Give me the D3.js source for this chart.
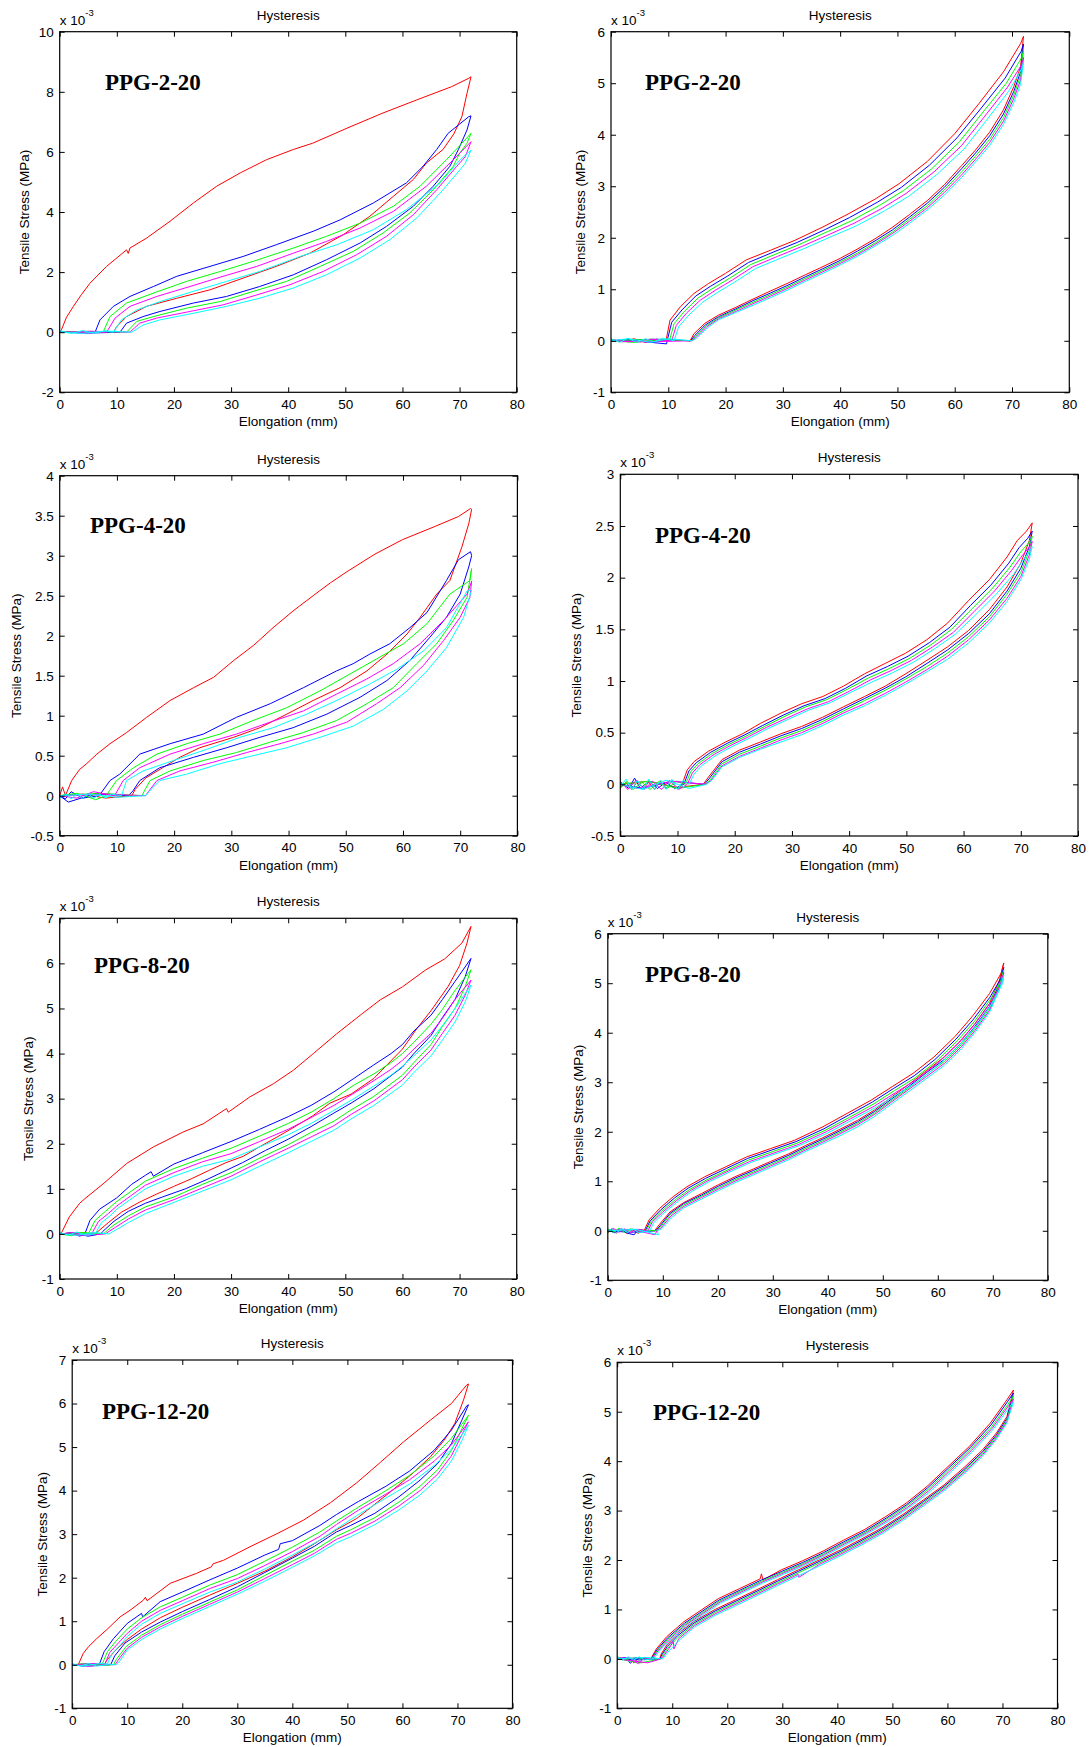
<!DOCTYPE html>
<html>
<head>
<meta charset="utf-8">
<script src="https://cdn.jsdelivr.net/npm/d3@7"></script>
<style>
  body { margin: 0; background: #fff; }
  svg text { font-family: "Liberation Sans", Arial, sans-serif; fill: #000; }
  .panel-name { font-family: "Liberation Serif", "Times New Roman", serif; font-weight: bold; }
</style>
</head>
<body>
<div id="chart"></div>
<script>
// hysteresis loops, 5 cycles per sample (red, blue, green, magenta, cyan)
// stress values are in units of 1e-3 MPa, elongation in mm

var seriesColors = ['#ff0000', '#0000ff', '#00ff00', '#ff00ff', '#00ffff'];
var panelNames = ['PPG-2-20', 'PPG-2-20', 'PPG-4-20', 'PPG-4-20', 'PPG-8-20', 'PPG-8-20', 'PPG-12-20', 'PPG-12-20'];
var xTicks = [0, 10, 20, 30, 40, 50, 60, 70, 80];
var yDomains = [[-2, 10], [-1, 6], [-0.5, 4], [-0.5, 3], [-1, 7], [-1, 6], [-1, 7], [-1, 6]];
var yTicks = [
  [-2, 0, 2, 4, 6, 8, 10],
  [-1, 0, 1, 2, 3, 4, 5, 6],
  [-0.5, 0, 0.5, 1, 1.5, 2, 2.5, 3, 3.5, 4],
  [-0.5, 0, 0.5, 1, 1.5, 2, 2.5, 3],
  [-1, 0, 1, 2, 3, 4, 5, 6, 7],
  [-1, 0, 1, 2, 3, 4, 5, 6],
  [-1, 0, 1, 2, 3, 4, 5, 6, 7],
  [-1, 0, 1, 2, 3, 4, 5, 6]
];

// PPG-2-20, left
var loopsPPG2a = [
  [[0,0],[0.3,0.08],[1.2,0.5],[2.4,0.86],[3.8,1.25],[5.3,1.63],[8.2,2.19],[11.7,2.74],[12,2.62],[12.3,2.8],[15.2,3.13],[19.3,3.69],[23.4,4.3],[27.5,4.86],[31.6,5.3],[36.2,5.74],[40.9,6.08],[44.3,6.29],[50.3,6.79],[56.4,7.28],[62.5,7.73],[68.6,8.17],[71.6,8.45],[72,8.5],[71.3,7.95],[70.4,7.17],[69,6.6],[67.1,6.08],[64.2,5.63],[61.9,5.08],[58.4,4.52],[54.3,3.86],[49.6,3.24],[43.8,2.63],[37.9,2.19],[32.1,1.8],[26.3,1.41],[20.5,1.13],[15.2,0.86],[11.7,0.52],[10,0.19],[9.4,0],[5,0.03],[0,0]],
  [[0,0],[3,0.02],[6.2,0],[7.05,0.41],[9.4,0.86],[12.3,1.19],[16.4,1.52],[20.5,1.86],[26.3,2.19],[32.1,2.52],[37.9,2.91],[44.4,3.36],[49.1,3.74],[54.9,4.3],[60.7,4.97],[63.6,5.52],[66,6.08],[68,6.62],[71.6,7.17],[72,7.2],[71.3,6.73],[69.8,6.08],[68.3,5.52],[65.4,4.86],[61.9,4.19],[57.2,3.52],[52.6,2.97],[46.7,2.41],[40.9,1.91],[35,1.52],[29.2,1.19],[23.4,0.97],[17.55,0.69],[14.6,0.52],[11.7,0.3],[10.55,0],[5,-0.03],[0,0]],
  [[0,0],[4,0.03],[7.6,0],[8.8,0.52],[11.7,0.97],[16.4,1.3],[22.2,1.69],[28.1,2.02],[33.9,2.36],[40.9,2.8],[46.7,3.19],[52.6,3.63],[58.4,4.19],[63.1,4.86],[67.7,5.74],[70,6.2],[72,6.62],[71.3,6.29],[70,5.95],[68.9,5.52],[65.4,4.74],[61.3,3.97],[56.6,3.3],[51.4,2.69],[45.6,2.19],[39.7,1.69],[33.9,1.36],[28.1,1.02],[22.2,0.8],[16.4,0.52],[13.5,0.36],[11.7,0],[6,0.02],[0,0]],
  [[0,0],[4,-0.02],[8.2,0],[9.7,0.47],[12.3,0.86],[17,1.19],[22.8,1.52],[28.6,1.86],[34.5,2.19],[40.9,2.63],[46.7,3.02],[52.6,3.47],[58.4,4.02],[64.2,4.86],[68.9,5.74],[72,6.34],[71,5.84],[69.5,5.52],[66,4.74],[61.9,3.91],[57.2,3.19],[52,2.58],[46.1,2.02],[40.3,1.58],[34.5,1.24],[28.6,0.91],[22.8,0.69],[17,0.47],[14,0.3],[12.3,0],[6,0.03],[0,0]],
  [[0,0.05],[2,-0.04],[4,0.05],[6,-0.03],[8,0.04],[9.4,0],[10.8,0.41],[13.5,0.74],[17.6,1.02],[23.4,1.36],[29.2,1.69],[35,2.02],[42.1,2.52],[48.5,2.91],[54.9,3.41],[60.7,4.08],[66.6,4.97],[70.1,5.74],[72,6.06],[71,5.62],[70.1,5.41],[66.6,4.63],[62.5,3.8],[57.8,3.08],[52.6,2.47],[46.7,1.91],[40.9,1.47],[35,1.13],[29.2,0.86],[23.4,0.63],[17.55,0.41],[14.6,0.24],[12.6,0],[8,0.04],[4,-0.04],[0,0]]
];

// PPG-2-20, right
var loopsPPG2b = [
  [[0,0.03],[2,-0.02],[4,0.04],[6,-0.03],[8,0.03],[9.6,0],[10.3,0.4],[12.1,0.66],[14.5,0.92],[17,1.11],[20,1.31],[23.6,1.57],[27.9,1.76],[32.1,1.95],[37,2.21],[41.2,2.45],[46.1,2.75],[50.3,3.05],[55.2,3.48],[60,4.02],[64.2,4.6],[68.5,5.22],[71.5,5.77],[72,5.91],[71.5,5.32],[70.3,4.93],[68.5,4.48],[66.1,4.05],[63.6,3.7],[61.2,3.4],[58.2,3.03],[55.2,2.72],[52.1,2.45],[49.1,2.2],[46.1,1.98],[43,1.78],[40,1.6],[37,1.44],[33.9,1.28],[30.9,1.12],[27.9,0.97],[24.8,0.81],[21.8,0.65],[18.8,0.5],[16.4,0.34],[14.5,0.14],[13.8,0],[10,0.02],[5,-0.02],[0,0]],
  [[0,0],[3,0.03],[6,-0.02],[9.7,-0.06],[9.8,0],[10.6,0.36],[12.4,0.6],[14.8,0.87],[17.4,1.06],[20.4,1.26],[24,1.52],[28.3,1.72],[32.5,1.91],[37.4,2.16],[41.6,2.39],[46.5,2.69],[50.7,2.98],[55.6,3.41],[60.4,3.94],[64.5,4.5],[68.8,5.1],[71.6,5.62],[72,5.76],[71.5,5.22],[70.3,4.84],[68.5,4.4],[66.1,3.98],[63.6,3.64],[61.2,3.34],[58.2,2.98],[55.2,2.67],[52.1,2.4],[49.1,2.15],[46.1,1.94],[43,1.74],[40,1.56],[37,1.4],[33.9,1.24],[30.9,1.08],[27.9,0.93],[24.8,0.78],[21.8,0.62],[18.8,0.47],[16.5,0.31],[14.6,0.1],[13.9,0],[8,0.03],[0,0]],
  [[0,0],[4,-0.03],[8,0.02],[10.2,0],[11,0.33],[12.8,0.57],[15.2,0.83],[17.8,1.02],[20.8,1.22],[24.4,1.48],[28.7,1.68],[32.9,1.87],[37.8,2.12],[42,2.33],[46.9,2.63],[51.1,2.92],[56,3.34],[60.8,3.86],[64.8,4.42],[69,5],[71.7,5.5],[72,5.63],[71.5,5.14],[70.3,4.77],[68.5,4.33],[66.1,3.91],[63.6,3.58],[61.2,3.28],[58.2,2.93],[55.2,2.62],[52.1,2.36],[49.1,2.11],[46.1,1.9],[43,1.7],[40,1.53],[37,1.37],[33.9,1.21],[30.9,1.05],[27.9,0.9],[24.8,0.75],[21.8,0.6],[18.8,0.45],[16.6,0.29],[14.7,0.08],[14,0],[7,0.03],[0,0]],
  [[0,0.02],[3,-0.02],[7,0.03],[10.6,0],[11.4,0.3],[13.2,0.54],[15.6,0.79],[18.2,0.98],[21.2,1.18],[24.8,1.44],[29.1,1.64],[33.3,1.83],[38.2,2.07],[42.4,2.28],[47.3,2.57],[51.5,2.86],[56.4,3.28],[61.2,3.79],[65.1,4.34],[69.2,4.92],[71.8,5.38],[72,5.5],[71.5,5.06],[70.3,4.7],[68.5,4.26],[66.1,3.85],[63.6,3.52],[61.2,3.22],[58.2,2.88],[55.2,2.58],[52.1,2.32],[49.1,2.08],[46.1,1.87],[43,1.67],[40,1.5],[37,1.34],[33.9,1.18],[30.9,1.02],[27.9,0.87],[24.8,0.72],[21.8,0.57],[18.8,0.43],[16.7,0.27],[14.8,0.06],[14.1,0],[6,-0.02],[0,0]],
  [[0,0.04],[1.5,-0.03],[3,0.05],[4.5,-0.03],[6,0.04],[7.5,-0.02],[9,0.05],[11,0],[11.8,0.27],[13.6,0.5],[16,0.75],[18.6,0.94],[21.6,1.14],[25.2,1.4],[29.5,1.6],[33.7,1.79],[38.6,2.03],[42.8,2.23],[47.7,2.52],[51.9,2.8],[56.8,3.22],[61.6,3.72],[65.4,4.26],[69.4,4.84],[71.8,5.3],[72,5.42],[71.5,4.98],[70.3,4.62],[68.5,4.2],[66.1,3.79],[63.6,3.47],[61.2,3.17],[58.2,2.83],[55.2,2.54],[52.1,2.28],[49.1,2.04],[46.1,1.84],[43,1.64],[40,1.47],[37,1.31],[33.9,1.15],[30.9,0.99],[27.9,0.84],[24.8,0.69],[21.8,0.55],[18.8,0.41],[16.8,0.25],[14.9,0.05],[14.2,0],[10,0.04],[7,-0.03],[3,0.04],[0,0]]
];

// PPG-4-20, left
var loopsPPG4a = [
  [[0,0],[0.5,0.11],[1,0],[2.1,0.19],[3.5,0.33],[4.7,0.4],[6.5,0.52],[8.8,0.65],[11.7,0.79],[15.2,0.98],[19.3,1.19],[23.4,1.35],[26.9,1.48],[30.4,1.69],[33.9,1.88],[37.3,2.1],[40.8,2.31],[44.3,2.5],[47.3,2.66],[50.2,2.8],[55.1,3.02],[59.9,3.2],[65.4,3.36],[69.7,3.49],[71.8,3.59],[72,3.58],[71.5,3.4],[70.3,3.11],[68.2,2.69],[65.9,2.52],[64.2,2.35],[63,2.23],[60.7,2.02],[57.2,1.77],[53.7,1.56],[49,1.35],[44.3,1.19],[39.7,1.02],[35,0.85],[30.4,0.73],[24.5,0.6],[21,0.48],[18,0.35],[15,0.22],[13.2,0.08],[12.6,0],[8,-0.03],[4,0.02],[0,0]],
  [[0,0],[1,-0.04],[2,0.05],[4,-0.03],[6.9,0],[8.8,0.19],[10.5,0.27],[14,0.52],[19.3,0.65],[25.1,0.77],[30.9,0.98],[36.8,1.15],[42.6,1.35],[48.4,1.56],[51.3,1.65],[54.2,1.77],[57.7,1.9],[61.2,2.1],[64.2,2.29],[67.6,2.69],[69.7,2.95],[71.8,3.05],[72,3],[71.5,2.86],[70,2.52],[67.6,2.23],[64.7,1.98],[61.2,1.69],[57.2,1.44],[52.5,1.23],[46.7,1.02],[40.8,0.85],[35,0.73],[29.2,0.6],[23.4,0.48],[17.5,0.35],[14,0.19],[12.8,0.06],[12,0],[6,0.02],[1.5,-0.08],[0,0]],
  [[0,0],[3,0.03],[6.3,-0.05],[8.1,0],[9.95,0.19],[12.9,0.35],[17,0.52],[22.2,0.65],[28,0.77],[33.8,0.94],[39.7,1.1],[45.5,1.31],[50.7,1.52],[55.4,1.71],[60.1,1.9],[64.2,2.15],[68.2,2.52],[71.7,2.69],[72,2.84],[71.2,2.48],[68.8,2.19],[65.9,1.9],[62.4,1.65],[58.3,1.35],[53.7,1.15],[48.4,0.94],[42.6,0.79],[36.8,0.67],[30.9,0.54],[25.1,0.44],[19.3,0.31],[15.8,0.19],[14.8,0.06],[14.4,0],[7,0.03],[0,0]],
  [[0,0],[3,-0.03],[5.9,0.05],[9.6,0],[11.1,0.19],[14,0.35],[19.3,0.52],[25.1,0.65],[30.9,0.77],[36.8,0.92],[42.6,1.06],[48.4,1.27],[53.7,1.46],[58.3,1.65],[63,1.9],[67.1,2.19],[71.2,2.52],[72,2.68],[71.7,2.48],[70,2.23],[67.1,1.94],[63.6,1.63],[59.5,1.35],[55.4,1.15],[50.2,0.92],[44.3,0.77],[38.5,0.65],[32.7,0.54],[26.9,0.42],[21,0.31],[17,0.19],[15.5,0.05],[15,0],[8,0.02],[0,0]],
  [[0,-0.03],[1,0.03],[2,-0.04],[3,0.02],[4,-0.03],[5,0.02],[6,-0.03],[7,0.02],[8,-0.03],[9,0.02],[10.8,0],[11.7,0.19],[14.6,0.31],[19.9,0.44],[25.7,0.58],[31.5,0.73],[37.3,0.85],[43.2,1.02],[49,1.21],[54.3,1.4],[58.9,1.58],[63.6,1.81],[67.6,2.1],[71.2,2.56],[72,2.57],[70.6,2.23],[67.6,1.85],[64.2,1.56],[60.7,1.31],[56.6,1.08],[51.3,0.87],[45.5,0.73],[39.7,0.6],[33.8,0.5],[28,0.4],[22.2,0.27],[17.5,0.19],[15.6,0.05],[15,0],[10,-0.02],[5,0.02],[0,0]]
];

// PPG-4-20, right
var loopsPPG4b = [
  [[0,-0.03],[1,0.02],[2,-0.05],[3,0.03],[4,-0.04],[5,0.02],[6,-0.05],[7,0.03],[8,-0.04],[9,0.03],[10,-0.04],[10.8,0],[11.7,0.14],[12.9,0.22],[15.4,0.32],[18.4,0.41],[21.4,0.49],[24.5,0.59],[28.1,0.69],[31.7,0.78],[35.4,0.85],[39,0.95],[42.7,1.07],[46.3,1.17],[49.9,1.27],[53.6,1.4],[57.2,1.56],[60.9,1.78],[64.5,1.98],[67.6,2.2],[69.4,2.36],[71,2.45],[72,2.53],[71.5,2.36],[70,2.14],[67.6,1.91],[64.5,1.69],[60.9,1.49],[57.2,1.33],[53.6,1.2],[49.9,1.07],[46.3,0.95],[42.7,0.85],[39,0.75],[35.4,0.65],[31.7,0.56],[28.1,0.49],[24.5,0.41],[20.8,0.33],[17.8,0.24],[15.4,0.07],[14.5,0],[10,-0.03],[5,0.03],[0,0]],
  [[0,0.02],[1.5,-0.04],[2.5,0.06],[3.5,-0.04],[5,0.03],[6.5,-0.04],[8,0.02],[9.5,-0.04],[11.1,0],[12,0.13],[13.3,0.21],[15.8,0.31],[18.8,0.4],[21.8,0.48],[24.9,0.57],[28.5,0.67],[32.1,0.76],[35.8,0.83],[39.4,0.93],[43.1,1.05],[46.7,1.14],[50.3,1.24],[54,1.37],[57.6,1.52],[61.2,1.73],[64.8,1.93],[67.9,2.14],[69.7,2.29],[71.2,2.38],[72,2.45],[71.5,2.3],[70,2.09],[67.6,1.87],[64.5,1.65],[60.9,1.46],[57.2,1.3],[53.6,1.17],[49.9,1.04],[46.3,0.93],[42.7,0.83],[39,0.73],[35.4,0.63],[31.7,0.54],[28.1,0.47],[24.5,0.39],[20.8,0.31],[17.8,0.22],[15.6,0.06],[14.7,0],[9,0.03],[4,-0.04],[0,0]],
  [[0,-0.04],[1.2,0.03],[2.2,-0.05],[3.8,0.02],[5.2,-0.05],[6.8,0.03],[8.2,-0.04],[9.8,0.03],[11.4,0],[12.3,0.12],[13.6,0.2],[16.1,0.3],[19.1,0.39],[22.1,0.47],[25.2,0.56],[28.8,0.66],[32.4,0.75],[36.1,0.82],[39.7,0.92],[43.4,1.03],[47,1.12],[50.6,1.22],[54.3,1.35],[57.9,1.5],[61.5,1.7],[65.1,1.9],[68.1,2.1],[70,2.25],[71.3,2.33],[72,2.4],[71.5,2.26],[70,2.05],[67.6,1.84],[64.5,1.62],[60.9,1.43],[57.2,1.27],[53.6,1.14],[49.9,1.02],[46.3,0.91],[42.7,0.81],[39,0.71],[35.4,0.61],[31.7,0.52],[28.1,0.45],[24.5,0.37],[20.8,0.29],[17.8,0.2],[15.8,0.05],[14.9,0],[10,-0.04],[5,0.03],[0,0]],
  [[0,0.03],[1.3,-0.05],[2.8,0.04],[4.2,-0.05],[5.6,0.03],[7.2,-0.05],[8.6,0.04],[10.2,-0.05],[11.7,0],[12.6,0.11],[13.9,0.19],[16.4,0.29],[19.4,0.38],[22.4,0.46],[25.5,0.55],[29.1,0.64],[32.7,0.73],[36.4,0.8],[40,0.9],[43.7,1.01],[47.3,1.1],[50.9,1.2],[54.6,1.33],[58.2,1.47],[61.8,1.67],[65.4,1.87],[68.4,2.07],[70.2,2.21],[71.4,2.29],[72,2.35],[71.5,2.22],[70,2.01],[67.6,1.8],[64.5,1.59],[60.9,1.4],[57.2,1.24],[53.6,1.11],[49.9,0.99],[46.3,0.88],[42.7,0.78],[39,0.69],[35.4,0.59],[31.7,0.5],[28.1,0.43],[24.5,0.35],[20.8,0.27],[17.8,0.18],[15.9,0.04],[15,0],[9,0.03],[3,-0.04],[0,0]],
  [[0,-0.02],[1,0.05],[2,-0.05],[3,0.04],[4,-0.05],[5,0.05],[6,-0.05],[7,0.04],[8,-0.05],[9,0.05],[10,-0.05],[11,0.04],[12,0],[12.9,0.1],[14.2,0.18],[16.7,0.28],[19.7,0.37],[22.7,0.45],[25.8,0.54],[29.4,0.63],[33,0.72],[36.7,0.79],[40.3,0.89],[44,0.99],[47.6,1.08],[51.2,1.18],[54.9,1.31],[58.5,1.45],[62.1,1.64],[65.7,1.84],[68.7,2.03],[70.4,2.17],[71.5,2.25],[72,2.3],[71.5,2.18],[70,1.98],[67.6,1.77],[64.5,1.56],[60.9,1.37],[57.2,1.21],[53.6,1.09],[49.9,0.97],[46.3,0.86],[42.7,0.76],[39,0.67],[35.4,0.57],[31.7,0.48],[28.1,0.41],[24.5,0.34],[20.8,0.26],[17.8,0.17],[16,0.04],[15.1,0],[12,-0.04],[8,0.04],[4,-0.05],[0,0]]
];

// PPG-8-20, left
var loopsPPG8a = [
  [[0,0],[0.3,0.02],[1.7,0.38],[3.5,0.68],[4.4,0.78],[7.6,1.11],[11.7,1.56],[16.4,1.93],[21.6,2.26],[25.1,2.44],[29.2,2.78],[29.5,2.7],[33.3,3.04],[37.4,3.33],[40.9,3.63],[44.4,4],[48.5,4.44],[52.6,4.85],[56.1,5.19],[60,5.48],[64,5.85],[67.4,6.1],[70.4,6.45],[72,6.82],[71.3,6.45],[70,5.95],[68,5.49],[65,4.95],[62.5,4.55],[60,4.1],[55,3.45],[51,3.1],[47.3,2.9],[44.3,2.62],[41.2,2.38],[38.2,2.16],[35.1,1.94],[32.1,1.72],[29.1,1.58],[26,1.4],[23,1.22],[19.9,1.05],[16.9,0.88],[13.9,0.7],[10.8,0.48],[8.5,0.25],[6.2,0],[3,0.03],[0,0]],
  [[0,0],[2,0.02],[3.5,-0.05],[4.4,0],[5.3,0.3],[7,0.55],[10,0.8],[12.6,1.1],[15,1.3],[16,1.38],[16.4,1.28],[20,1.55],[25,1.8],[30,2.05],[35,2.32],[40,2.6],[44,2.85],[48,3.15],[51.4,3.44],[55,3.75],[58,4],[60,4.2],[62,4.5],[65,4.85],[67,5.2],[69.2,5.6],[72,6.11],[71,5.71],[69.2,5.2],[67,4.8],[65,4.4],[62,4],[60,3.7],[55,3.22],[51,2.9],[48,2.68],[44,2.38],[40,2.1],[36,1.85],[32,1.58],[30,1.46],[26,1.22],[22,1],[18,0.82],[15,0.68],[12,0.5],[9.5,0.28],[7.5,0.05],[7.2,0],[5,-0.05],[2,0.02],[0,0]],
  [[0,0],[2,-0.04],[4,0.02],[5,0],[6.2,0.3],[8,0.5],[10,0.72],[15,1.17],[20,1.45],[25,1.68],[30,1.9],[35,2.17],[40,2.45],[44,2.7],[48,3],[51.5,3.3],[55,3.55],[58,3.8],[60,4],[62,4.25],[65,4.65],[67,4.98],[69.2,5.4],[72,5.86],[71,5.49],[69.2,5],[67,4.6],[65,4.2],[62,3.8],[60,3.52],[55,3.05],[51,2.75],[48,2.5],[44,2.25],[40,1.98],[35,1.68],[30,1.36],[25,1.1],[20,0.82],[15,0.6],[12,0.4],[9.5,0.2],[7.8,0.02],[7.5,0],[4,0.03],[0,0]],
  [[0,0],[2.5,0.03],[4.5,-0.03],[5.6,0],[6.8,0.28],[8.5,0.45],[10,0.62],[15,1.08],[20,1.36],[25,1.6],[30,1.78],[35,2.05],[40,2.32],[44,2.58],[48,2.85],[51.5,3.12],[55,3.4],[58,3.65],[60,3.85],[62,4.1],[65,4.45],[67,4.78],[69.2,5.2],[72,5.63],[71,5.3],[69.2,4.85],[67,4.45],[65,4.08],[62,3.7],[60,3.42],[55,2.95],[51,2.65],[48,2.4],[44,2.15],[40,1.9],[35,1.6],[30,1.28],[25,1.02],[20,0.76],[15,0.53],[12,0.33],[9.8,0.15],[8.2,0.02],[8,0],[4,-0.03],[0,0]],
  [[0,0.03],[1.5,-0.03],[3,0.04],[4.5,-0.03],[6.2,0],[7.3,0.25],[8.8,0.4],[10,0.55],[15,1],[20,1.28],[25,1.5],[30,1.66],[35,1.93],[40,2.2],[44,2.45],[48,2.74],[51.5,3],[55,3.28],[58,3.52],[60,3.72],[62,3.95],[65,4.3],[67,4.62],[69.2,5],[72,5.52],[71,5.15],[69.2,4.7],[67,4.3],[65,3.95],[62,3.58],[60,3.3],[55,2.85],[51,2.55],[48,2.3],[44,2.05],[40,1.8],[35,1.5],[30,1.2],[25,0.95],[20,0.7],[15,0.45],[12,0.25],[10,0.1],[8.6,0],[6,0.03],[3,-0.03],[0,0]]
];

// PPG-8-20, right
var loopsPPG8b = [
  [[0,-0.05],[0.8,0.05],[1.5,-0.05],[2.5,0.04],[3.5,-0.06],[4.5,0.03],[5.5,-0.05],[6.6,0],[7.5,0.22],[9.4,0.45],[11.9,0.69],[14.4,0.89],[17.6,1.09],[21.4,1.29],[25.2,1.49],[29.6,1.66],[34,1.83],[39.1,2.1],[43.5,2.37],[47.9,2.64],[51.7,2.91],[55.5,3.18],[59.3,3.51],[63.1,3.92],[66.2,4.32],[69.4,4.79],[71.5,5.2],[72,5.41],[71.2,5.06],[69.4,4.59],[66.8,4.19],[64.3,3.85],[61.2,3.51],[58,3.24],[54.9,2.97],[51.7,2.71],[48.5,2.44],[45.4,2.23],[42.2,2.05],[39.1,1.88],[35.9,1.72],[32.8,1.55],[29.6,1.4],[26.5,1.25],[23.3,1.1],[20.1,0.93],[17,0.75],[13.8,0.57],[11.3,0.38],[9.4,0.13],[8.5,0],[4,0.02],[0,0]],
  [[0,0.02],[1.2,-0.04],[2.2,0.04],[3.6,-0.05],[4.8,-0.08],[5.5,0.03],[6.8,0],[7.7,0.2],[9.6,0.42],[12.1,0.66],[14.6,0.86],[17.8,1.06],[21.6,1.26],[25.4,1.46],[29.8,1.63],[34.2,1.8],[39.3,2.06],[43.7,2.33],[48.1,2.6],[51.9,2.87],[55.7,3.13],[59.5,3.46],[63.3,3.87],[66.4,4.26],[69.5,4.72],[71.6,5.12],[72,5.32],[71.2,4.99],[69.4,4.53],[66.8,4.13],[64.3,3.8],[61.2,3.46],[58,3.2],[54.9,2.93],[51.7,2.67],[48.5,2.41],[45.4,2.2],[42.2,2.02],[39.1,1.85],[35.9,1.69],[32.8,1.52],[29.6,1.37],[26.5,1.22],[23.3,1.07],[20.1,0.9],[17,0.72],[13.8,0.55],[11.3,0.35],[9.5,0.1],[8.7,0],[4,-0.03],[0,0]],
  [[0,0.04],[1,-0.03],[2,0.05],[3,-0.03],[4.2,0.04],[5.6,-0.03],[7,0],[7.9,0.19],[9.8,0.4],[12.3,0.63],[14.8,0.83],[18,1.03],[21.8,1.23],[25.6,1.43],[30,1.6],[34.4,1.77],[39.5,2.03],[43.9,2.29],[48.3,2.56],[52.1,2.83],[55.9,3.09],[59.7,3.42],[63.5,3.83],[66.6,4.22],[69.6,4.68],[71.7,5.08],[72,5.27],[71.2,4.95],[69.4,4.49],[66.8,4.09],[64.3,3.76],[61.2,3.42],[58,3.16],[54.9,2.9],[51.7,2.64],[48.5,2.38],[45.4,2.17],[42.2,1.99],[39.1,1.82],[35.9,1.66],[32.8,1.49],[29.6,1.34],[26.5,1.19],[23.3,1.04],[20.1,0.87],[17,0.7],[13.8,0.52],[11.4,0.33],[9.6,0.08],[8.8,0],[4,0.02],[0,0]],
  [[0,0],[1,0.05],[2,-0.03],[3,0.04],[4,-0.04],[5.2,0.03],[7.3,0],[8.1,0.18],[10,0.38],[12.5,0.61],[15,0.81],[18.2,1.01],[22,1.21],[25.8,1.4],[30.2,1.57],[34.6,1.74],[39.7,2],[44.1,2.26],[48.5,2.52],[52.3,2.79],[56.1,3.05],[59.9,3.38],[63.7,3.79],[66.8,4.18],[69.8,4.64],[71.8,5.04],[72,5.22],[71.2,4.91],[69.4,4.45],[66.8,4.05],[64.3,3.72],[61.2,3.38],[58,3.12],[54.9,2.87],[51.7,2.61],[48.5,2.35],[45.4,2.14],[42.2,1.96],[39.1,1.79],[35.9,1.63],[32.8,1.46],[29.6,1.31],[26.5,1.16],[23.3,1.01],[20.1,0.84],[17,0.67],[13.8,0.49],[11.5,0.3],[9.7,0.06],[8.9,0],[8.6,-0.08],[4,0.03],[0,0]],
  [[0,-0.04],[0.7,0.05],[1.6,-0.04],[2.6,0.04],[3.6,-0.04],[4.6,0.04],[5.6,-0.04],[7.6,0],[8.4,0.17],[10.2,0.36],[12.7,0.59],[15.2,0.79],[18.4,0.99],[22.2,1.19],[26,1.38],[30.4,1.55],[34.8,1.72],[39.9,1.97],[44.3,2.23],[48.7,2.49],[52.5,2.75],[56.3,3.01],[60.1,3.34],[63.9,3.75],[67,4.14],[69.9,4.6],[71.8,5],[72,5.16],[71.2,4.87],[69.4,4.41],[66.8,4.01],[64.3,3.68],[61.2,3.34],[58,3.08],[54.9,2.83],[51.7,2.57],[48.5,2.31],[45.4,2.1],[42.2,1.92],[39.1,1.76],[35.9,1.6],[32.8,1.43],[29.6,1.28],[26.5,1.13],[23.3,0.98],[20.1,0.81],[17,0.64],[13.8,0.46],[11.6,0.27],[9.8,0.04],[9,0],[9.2,-0.08],[5,0.03],[0,0]]
];

// PPG-12-20, left
var loopsPPG12a = [
  [[0,0],[1.1,0],[2,0.26],[3,0.42],[4.45,0.6],[6.4,0.82],[8.7,1.1],[10.5,1.25],[12.9,1.48],[13.3,1.55],[13.6,1.47],[17.8,1.87],[22.6,2.1],[25.3,2.25],[25.6,2.32],[27.5,2.4],[32.3,2.71],[37.2,3.01],[42,3.32],[46.9,3.72],[51.7,4.18],[56,4.65],[60.2,5.12],[65.1,5.62],[68.9,6],[71.7,6.43],[72,6.45],[71.1,6.08],[69.5,5.54],[67.6,5.16],[65.1,4.78],[61.9,4.4],[58.1,4],[54.3,3.62],[51.7,3.36],[48,3.1],[44,2.78],[40,2.48],[35,2.15],[30,1.87],[25,1.6],[20,1.32],[16,1.08],[12.6,0.82],[10,0.58],[8,0.35],[6.4,0.12],[5.8,0],[3,0.02],[0,0]],
  [[0,0],[2,-0.03],[4,0.03],[4.9,0],[5.8,0.3],[7.5,0.6],[10,0.95],[12.6,1.18],[12.8,1.1],[16,1.45],[20,1.67],[25,1.95],[30,2.22],[35,2.52],[37.5,2.65],[37.8,2.78],[40,2.85],[45,3.2],[48,3.45],[52,3.75],[57,4.1],[61.3,4.45],[65.8,4.93],[68.9,5.39],[71.7,5.95],[72,5.97],[70.8,5.62],[68.9,5.08],[66.4,4.62],[63.2,4.24],[59.4,3.86],[55,3.48],[50.6,3.2],[48,3.05],[44,2.72],[40,2.45],[35,2.12],[30,1.79],[25,1.5],[20,1.22],[16,0.98],[12.6,0.75],[9.6,0.5],[7.7,0.2],[7,0],[3,-0.03],[0,0]],
  [[0,0],[2.5,0.03],[5.4,0],[6.4,0.3],[8,0.55],[10,0.82],[12.6,1.08],[16,1.33],[20,1.55],[25,1.83],[30,2.07],[35,2.38],[40,2.7],[45,3.05],[48,3.3],[52,3.62],[57,4],[61.3,4.35],[65.8,4.8],[68.9,5.2],[72,5.73],[70.8,5.42],[68.9,4.92],[66.4,4.48],[63.2,4.1],[59.4,3.74],[55,3.38],[50.6,3.1],[48,2.95],[44,2.63],[40,2.38],[35,2.05],[30,1.72],[25,1.44],[20,1.16],[16,0.92],[12.6,0.68],[9.8,0.42],[8,0.12],[7.5,0],[4,-0.02],[0,0]],
  [[0,0],[3,-0.03],[5.9,0],[6.8,0.28],[8.4,0.5],[10,0.72],[12.6,1],[16,1.25],[20,1.47],[25,1.75],[30,1.98],[35,2.28],[40,2.6],[45,2.95],[48,3.22],[52,3.55],[57,3.92],[61.3,4.25],[65.8,4.68],[68.9,5.05],[72,5.58],[70.8,5.28],[68.9,4.8],[66.4,4.38],[63.2,4],[59.4,3.65],[55,3.3],[50.6,3.02],[48,2.88],[44,2.56],[40,2.3],[35,1.98],[30,1.67],[25,1.39],[20,1.11],[16,0.87],[12.6,0.63],[10,0.38],[8.3,0.1],[7.8,0],[4,0.03],[0,0]],
  [[0,0.03],[1.5,-0.03],[3,0.03],[4.5,-0.03],[6.3,0],[7.2,0.25],[8.8,0.46],[10,0.65],[12.6,0.93],[16,1.18],[20,1.4],[25,1.67],[30,1.9],[35,2.2],[40,2.52],[45,2.86],[48,3.12],[52,3.45],[57,3.83],[61.3,4.15],[65.8,4.58],[68.9,4.95],[72,5.5],[70.8,5.15],[68.9,4.68],[66.4,4.27],[63.2,3.9],[59.4,3.56],[55,3.22],[50.6,2.94],[48,2.8],[44,2.5],[40,2.24],[35,1.92],[30,1.62],[25,1.34],[20,1.06],[16,0.82],[12.6,0.58],[10,0.34],[8.6,0.08],[8,0],[5,0.03],[2,-0.03],[0,0]]
];

// PPG-12-20, right
var loopsPPG12b = [
  [[0,0.04],[1,0],[2.3,0.02],[3,-0.08],[4,0.03],[5,0],[6.1,0],[7.1,0.2],[9,0.45],[12.1,0.75],[15.3,0.99],[18.4,1.22],[22.2,1.42],[26,1.62],[26.2,1.72],[26.5,1.6],[29.8,1.8],[33.6,1.98],[37.4,2.18],[41.1,2.4],[45,2.62],[48.8,2.88],[52.5,3.15],[56.3,3.49],[60.1,3.89],[64,4.3],[67.8,4.77],[70.8,5.24],[72,5.44],[70.8,4.9],[68.9,4.57],[66.4,4.23],[63.2,3.89],[59.4,3.52],[55.7,3.22],[51.9,2.92],[48.1,2.65],[44.3,2.42],[40.5,2.2],[36.7,2],[32.9,1.8],[29.1,1.6],[25.4,1.4],[21.6,1.2],[17.8,1],[14,0.76],[10.9,0.5],[9,0.28],[8,0.1],[7.7,0],[4,0.02],[0,0]],
  [[0,0],[1.5,0.03],[2.4,-0.09],[3.2,0.02],[6.2,0],[7.2,0.18],[9.1,0.42],[12.2,0.72],[15.4,0.96],[18.5,1.19],[22.3,1.39],[26.1,1.59],[29.9,1.77],[33.7,1.95],[37.5,2.15],[41.2,2.37],[45.1,2.59],[48.9,2.85],[52.6,3.12],[56.4,3.46],[60.2,3.86],[64.1,4.27],[67.9,4.73],[70.9,5.2],[72,5.38],[70.8,4.86],[68.9,4.53],[66.4,4.19],[63.2,3.85],[59.4,3.49],[55.7,3.19],[51.9,2.89],[48.1,2.62],[44.3,2.39],[40.5,2.17],[36.7,1.97],[32.9,1.77],[29.1,1.57],[25.4,1.37],[21.6,1.17],[17.8,0.97],[14,0.73],[11,0.47],[9.1,0.25],[8.1,0.08],[7.8,0],[4,-0.02],[0,0]],
  [[0,0.02],[2,-0.02],[3.6,-0.08],[4.4,0.02],[6.3,0],[7.3,0.17],[9.2,0.4],[12.3,0.7],[15.5,0.94],[18.6,1.17],[22.4,1.37],[26.2,1.57],[30,1.75],[33.8,1.93],[37.6,2.13],[41.3,2.35],[45.2,2.57],[49,2.83],[52.7,3.1],[56.5,3.43],[60.3,3.83],[64.2,4.24],[68,4.69],[71,5.15],[72,5.32],[70.8,4.83],[68.9,4.5],[66.4,4.16],[63.2,3.82],[59.4,3.46],[55.7,3.16],[51.9,2.86],[48.1,2.59],[44.3,2.36],[40.5,2.14],[36.7,1.94],[32.9,1.74],[29.1,1.54],[25.4,1.34],[21.6,1.14],[17.8,0.94],[14,0.7],[11.1,0.44],[9.2,0.22],[8.2,0.06],[7.9,0],[4.3,-0.08],[0,0]],
  [[0,0],[2,0.03],[3.9,-0.1],[4.8,0.02],[6.4,0],[7.4,0.16],[9.3,0.38],[12.4,0.68],[15.6,0.92],[18.7,1.15],[22.5,1.35],[26.3,1.55],[30.1,1.73],[33.9,1.91],[37.7,2.11],[41.4,2.33],[45.3,2.55],[49.1,2.8],[52.8,3.07],[56.6,3.4],[60.4,3.8],[64.3,4.21],[68.1,4.66],[71.1,5.12],[72,5.26],[70.8,4.8],[68.9,4.47],[66.4,4.13],[63.2,3.79],[59.4,3.43],[55.7,3.13],[51.9,2.83],[48.1,2.56],[44.3,2.33],[40.5,2.11],[36.7,1.91],[33,1.65],[32.9,1.71],[29.1,1.51],[25.4,1.31],[21.6,1.11],[17.8,0.91],[14,0.67],[11.2,0.41],[10.3,0.2],[10.2,0.35],[9.3,0.19],[8.3,0.04],[8,0],[5.5,-0.08],[0,0]],
  [[0,0.04],[1,-0.02],[2,0.04],[3,-0.02],[4,0.04],[5,-0.02],[6.6,0],[7.6,0.15],[9.4,0.36],[12.5,0.66],[15.7,0.9],[18.8,1.13],[22.6,1.33],[26.4,1.53],[30.2,1.71],[34,1.89],[37.8,2.09],[41.5,2.31],[45.4,2.53],[49.2,2.78],[52.9,3.05],[56.7,3.37],[60.5,3.77],[64.4,4.18],[68.2,4.63],[71.2,5.08],[72,5.2],[70.8,4.77],[68.9,4.44],[66.4,4.1],[63.2,3.76],[59.4,3.4],[55.7,3.1],[51.9,2.8],[48.1,2.53],[44.3,2.3],[40.5,2.08],[36.7,1.88],[32.9,1.68],[29.1,1.48],[25.4,1.28],[21.6,1.08],[17.8,0.88],[14,0.64],[11.3,0.38],[9.4,0.16],[8.4,0.02],[8.2,0],[5,0.03],[0,0]]
];

var allLoops = [loopsPPG2a, loopsPPG2b, loopsPPG4a, loopsPPG4b, loopsPPG8a, loopsPPG8b, loopsPPG12a, loopsPPG12b];

// plot frames (pixel boxes) and where the sample name sits
var frames = [
  {left: 59.7, right: 516.7, top: 31.7, bottom: 392.3, nameX: 105, nameY: 90, ylabX: 24},
  {left: 611, right: 1069.3, top: 31.7, bottom: 392.3, nameX: 645, nameY: 90, ylabX: 580},
  {left: 59.7, right: 517.4, top: 475.7, bottom: 835.7, nameX: 90, nameY: 533, ylabX: 16},
  {left: 620.3, right: 1078, top: 474.3, bottom: 836, nameX: 655, nameY: 543, ylabX: 576},
  {left: 59.7, right: 516.7, top: 918.3, bottom: 1279, nameX: 94, nameY: 973, ylabX: 28},
  {left: 607.8, right: 1047.8, top: 933.7, bottom: 1280.3, nameX: 645, nameY: 982, ylabX: 578},
  {left: 72.2, right: 512.5, top: 1360, bottom: 1708.3, nameX: 102, nameY: 1419, ylabX: 42},
  {left: 617.2, right: 1057.5, top: 1362.3, bottom: 1708.3, nameX: 653, nameY: 1420, ylabX: 587}
];

var svgWidth = 1089;
var svgHeight = 1747;
var fontSize = 13.5;
var tickLen = 5;

var svg = d3.select('#chart')
  .append('svg')
  .attr('width', svgWidth)
  .attr('height', svgHeight)
  .style('display', 'block');

svg.append('rect')
  .attr('width', svgWidth)
  .attr('height', svgHeight)
  .attr('fill', '#fff');

frames.forEach(function(f, i) {

  var xScale = d3.scaleLinear().domain([0, 80]).range([f.left, f.right]);
  var yScale = d3.scaleLinear().domain(yDomains[i]).range([f.bottom, f.top]);

  var g = svg.append('g');

  // the loops
  var line = d3.line()
    .x(d => xScale(d[0]))
    .y(d => yScale(d[1]));

  allLoops[i].forEach(function(cycle, j) {
    g.append('path')
      .attr('d', line(cycle))
      .attr('fill', 'none')
      .attr('stroke', seriesColors[j])
      .attr('stroke-width', 1)
      .attr('stroke-linejoin', 'round');
  });

  // axes, MATLAB style ticks pointing inwards on all four sides
  var fmt = d => String(d);

  var bottomAxis = g.append('g')
    .attr('transform', `translate(0, ${f.bottom})`)
    .call(d3.axisBottom(xScale).tickValues(xTicks).tickSize(-tickLen).tickSizeOuter(0).tickPadding(7).tickFormat(fmt));

  var topAxis = g.append('g')
    .attr('transform', `translate(0, ${f.top})`)
    .call(d3.axisTop(xScale).tickValues(xTicks).tickSize(-tickLen).tickSizeOuter(0).tickFormat(''));

  var leftAxis = g.append('g')
    .attr('transform', `translate(${f.left}, 0)`)
    .call(d3.axisLeft(yScale).tickValues(yTicks[i]).tickSize(-tickLen).tickSizeOuter(0).tickPadding(6).tickFormat(fmt));

  var rightAxis = g.append('g')
    .attr('transform', `translate(${f.right}, 0)`)
    .call(d3.axisRight(yScale).tickValues(yTicks[i]).tickSize(-tickLen).tickSizeOuter(0).tickFormat(''));

  [bottomAxis, topAxis, leftAxis, rightAxis].forEach(function(ax) {
    ax.select('.domain').remove();
    ax.selectAll('line').attr('stroke', '#000');
    ax.selectAll('text')
      .attr('font-size', fontSize)
      .attr('font-family', '"Liberation Sans", Arial, sans-serif')
      .attr('fill', '#000');
  });

  // frame
  g.append('rect')
    .attr('x', f.left)
    .attr('y', f.top)
    .attr('width', f.right - f.left)
    .attr('height', f.bottom - f.top)
    .attr('fill', 'none')
    .attr('stroke', '#000')
    .attr('stroke-width', 1.2);

  // title
  g.append('text')
    .attr('x', (f.left + f.right) / 2)
    .attr('y', f.top - 12)
    .attr('text-anchor', 'middle')
    .attr('font-size', fontSize)
    .text('Hysteresis');

  // exponent label
  var expo = g.append('text')
    .attr('x', f.left)
    .attr('y', f.top - 7)
    .attr('font-size', fontSize);
  expo.append('tspan').text('x 10');
  expo.append('tspan')
    .attr('font-size', 9.5)
    .attr('dy', -9)
    .text('-3');

  // x label
  g.append('text')
    .attr('x', (f.left + f.right) / 2)
    .attr('y', f.bottom + 34)
    .attr('text-anchor', 'middle')
    .attr('font-size', fontSize)
    .text('Elongation (mm)');

  // y label
  g.append('text')
    .attr('transform', `translate(${f.ylabX}, ${(f.top + f.bottom) / 2}) rotate(-90)`)
    .attr('text-anchor', 'middle')
    .attr('dy', '0.35em')
    .attr('font-size', fontSize)
    .text('Tensile Stress (MPa)');

  // sample name
  g.append('text')
    .attr('class', 'panel-name')
    .attr('x', f.nameX)
    .attr('y', f.nameY)
    .attr('font-size', 23)
    .text(panelNames[i]);
});
</script>
</body>
</html>
